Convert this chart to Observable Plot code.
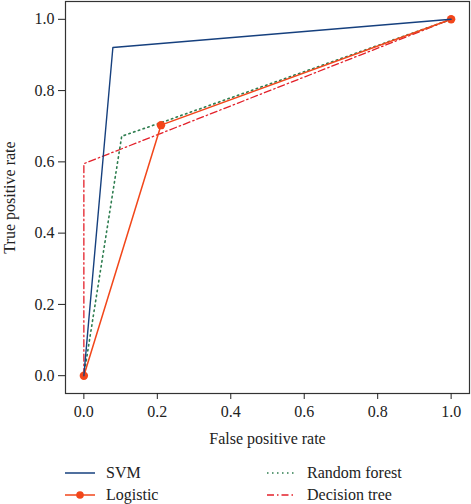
<!DOCTYPE html>
<html>
<head>
<meta charset="utf-8">
<script src="https://cdn.jsdelivr.net/npm/d3@7"></script>
<script src="https://cdn.jsdelivr.net/npm/@observablehq/plot@0.6"></script>
<style>
  html, body { margin: 0; padding: 0; background: #fff; }
  body { width: 471px; height: 504px; overflow: hidden; font-family: 'Liberation Serif', serif; }
  #chart svg, #chart svg text { font-family: 'Liberation Serif', serif !important; }
  #legend { position: relative; height: 52px; font-size: 16px; color: #222; font-family: 'Liberation Serif', serif; }
  .item { position: absolute; display: flex; align-items: center; height: 20px; }
  .item svg { margin-right: 11px; }
</style>
</head>
<body>
<div id="chart"></div>
<div id="legend"></div>
<script>
const seriesNames = ["SVM", "Logistic", "Random forest", "Decision tree"];
const colors = ["#16407e", "#f2461a", "#2e7d4f", "#e3202a"];
const dashes = ["none", "none", "1.5,3.5", "7,3,1.5,3"];
const svmFpr = [0, 0.079, 1];
const svmTpr = [0, 0.921, 1];
const logFpr = [0, 0.21, 1];
const logTpr = [0, 0.703, 1];
const rfFpr = [0, 0.103, 0.21, 1];
const rfTpr = [0, 0.672, 0.71, 1];
const dtFpr = [0, 0, 1];
const dtTpr = [0, 0.595, 1];
const ticks = [0, 0.2, 0.4, 0.6, 0.8, 1.0];

const toRows = (xs, ys, name) => xs.map((x, i) => ({fpr: x, tpr: ys[i], name}));
const svm = toRows(svmFpr, svmTpr, "SVM");
const logi = toRows(logFpr, logTpr, "Logistic");
const rf = toRows(rfFpr, rfTpr, "Random forest");
const dt = toRows(dtFpr, dtTpr, "Decision tree");

const FONT = "Liberation Serif";
const chart = Plot.plot({
  width: 471,
  height: 452,
  marginLeft: 65,
  marginRight: 2,
  marginTop: 1,
  marginBottom: 59,
  style: {fontFamily: FONT, fontSize: "15px", color: "#222", background: "#fff"},
  x: {domain: [-0.05, 1.05]},
  y: {domain: [-0.05, 1.05]},
  marks: [
    Plot.frame({stroke: "#333", strokeWidth: 1.2}),
    Plot.axisX({ticks, tickFormat: d3.format(".1f"), tickSize: 6, tickPadding: 6, label: "False positive rate", labelAnchor: "center", labelArrow: "none", labelOffset: 50, fontSize: 16, fontFamily: FONT, stroke: "#222"}),
    Plot.axisY({ticks, tickFormat: d3.format(".1f"), tickSize: 7, tickPadding: 4, label: "True positive rate", labelAnchor: "center", labelArrow: "none", labelOffset: 62, fontSize: 16, fontFamily: FONT, stroke: "#222"}),
    Plot.line(dt, {x: "fpr", y: "tpr", stroke: colors[3], strokeWidth: 1.3, strokeDasharray: dashes[3]}),
    Plot.line(rf, {x: "fpr", y: "tpr", stroke: colors[2], strokeWidth: 1.6, strokeDasharray: dashes[2]}),
    Plot.line(logi, {x: "fpr", y: "tpr", stroke: colors[1], strokeWidth: 1.5}),
    Plot.dot(logi, {x: "fpr", y: "tpr", fill: colors[1], r: 4.2}),
    Plot.line(svm, {x: "fpr", y: "tpr", stroke: colors[0], strokeWidth: 1.4})
  ]
});
document.getElementById("chart").appendChild(chart);

const legend = document.getElementById("legend");
const pos = [[65, 11], [65, 33], [267, 11], [267, 33]];
seriesNames.forEach((name, i) => {
  const item = document.createElement("div");
  item.className = "item";
  item.style.left = pos[i][0] + "px";
  item.style.top = pos[i][1] + "px";
  const w = i < 2 ? 30 : 29;
  let sw = `<svg width="${w}" height="12"><line x1="0" y1="6" x2="${w}" y2="6" stroke="${colors[i]}" stroke-width="1.5" stroke-dasharray="${dashes[i]}"/>`;
  if (i === 1) sw += `<circle cx="${w/2}" cy="6" r="3.8" fill="${colors[i]}"/>`;
  sw += `</svg>`;
  item.innerHTML = sw + `<span>${name}</span>`;
  legend.appendChild(item);
});
</script>
</body>
</html>
